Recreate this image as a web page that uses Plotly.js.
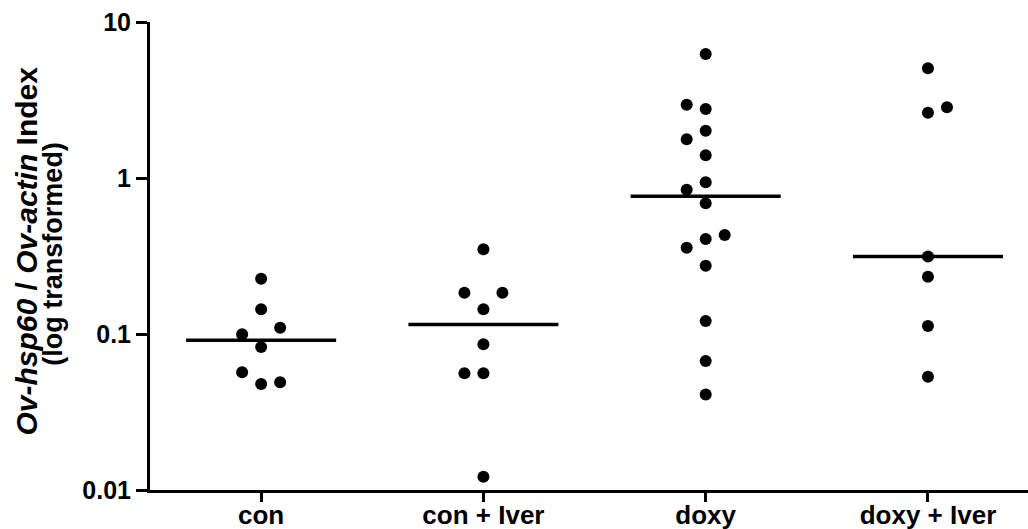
<!DOCTYPE html>
<html>
<head>
<meta charset="utf-8">
<script src="https://cdn.plot.ly/plotly-3.0.1.min.js"></script>
<style>
  html, body { margin: 0; padding: 0; background: #ffffff; }
  #chart { width: 1028px; height: 529px; }
</style>
</head>
<body>
<div id="chart"></div>
<script>
// Categories (x-axis groups)
const categories = ["con", "con + Iver", "doxy", "doxy + Iver"];

// Ov-hsp60 / Ov-actin index values per group
const conValues      = [0.226, 0.144, 0.1097, 0.0996, 0.0825, 0.0568, 0.0478, 0.049];
const conIverValues  = [0.349, 0.184, 0.184, 0.144, 0.0859, 0.056, 0.056, 0.01217];
const doxyValues     = [6.24, 2.95, 2.77, 2.01, 1.77, 1.397, 0.938, 0.841, 0.689, 0.431, 0.406, 0.357, 0.274, 0.121, 0.0671, 0.041];
const doxyIverValues = [5.05, 2.84, 2.62, 0.314, 0.233, 0.1125, 0.0532];

// Dot-plot column slot of each point (-1 left, 0 centre, 1 right)
const conSlots      = [0, 0, 1, -1, 0, -1, 0, 1];
const conIverSlots  = [0, -1, 1, 0, 0, -1, 0, 0];
const doxySlots     = [0, -1, 0, 0, -1, 0, 0, -1, 0, 1, 0, -1, 0, 0, 0, 0];
const doxyIverSlots = [0, 1, 0, 0, 0, 0, 0];

// Y-axis ticks
const yTickVals = [0.01, 0.1, 1, 10];
const yTickText = ["0.01", "0.1", "1", "10"];

const groups = [
  { values: conValues, slots: conSlots },
  { values: conIverValues, slots: conIverSlots },
  { values: doxyValues, slots: doxySlots },
  { values: doxyIverValues, slots: doxyIverSlots }
];

const SLOT_W = 0.0855;   // horizontal spacing of dot columns
const HALF_LINE = 0.3375; // half-width of the median bar

function median(arr) {
  const s = arr.slice().sort((a, b) => a - b);
  const n = s.length;
  return n % 2 ? s[(n - 1) / 2] : (s[n / 2 - 1] + s[n / 2]) / 2;
}

const traces = [];
groups.forEach((g, i) => {
  traces.push({
    type: "scatter",
    mode: "markers",
    x: g.slots.map(s => i + s * SLOT_W),
    y: g.values,
    marker: { color: "#000000", size: 12, line: { width: 0 } },
    hoverinfo: "y",
    showlegend: false,
    cliponaxis: false
  });
  const m = median(g.values);
  traces.push({
    type: "scatter",
    mode: "lines",
    x: [i - HALF_LINE, i + HALF_LINE],
    y: [m, m],
    line: { color: "#000000", width: 3.5 },
    hoverinfo: "y",
    showlegend: false
  });
});

const FONT = "Arial, 'Liberation Sans', Helvetica, sans-serif";

const layout = {
  width: 1028,
  height: 529,
  margin: { l: 150, r: 0, t: 22, b: 39, pad: 0 },
  paper_bgcolor: "#ffffff",
  plot_bgcolor: "#ffffff",
  showlegend: false,
  font: { family: FONT, color: "#000000" },
  xaxis: {
    range: [-0.5, 3.45],
    tickmode: "array",
    tickvals: categories.map((c, i) => i),
    ticktext: categories,
    showgrid: false,
    zeroline: false,
    showline: true,
    linecolor: "#000000",
    linewidth: 3,
    ticks: "outside",
    ticklen: 9,
    tickwidth: 3,
    tickcolor: "#000000",
    ticklabelstandoff: -9,
    tickfont: { family: FONT, size: 26, weight: "bold", color: "#000000" },
    automargin: false,
    fixedrange: true
  },
  yaxis: {
    type: "log",
    range: [-2, 1],
    tickmode: "array",
    tickvals: yTickVals,
    ticktext: yTickText,
    showgrid: false,
    zeroline: false,
    showline: true,
    linecolor: "#000000",
    linewidth: 3,
    ticks: "outside",
    ticklen: 11,
    tickwidth: 3,
    tickcolor: "#000000",
    tickfont: { family: FONT, size: 25, weight: "bold", color: "#000000" },
    automargin: false,
    fixedrange: true
  },
  annotations: [
    {
      text: "<i>Ov-hsp60</i> / <i>Ov-actin</i> Index",
      xref: "paper", yref: "paper",
      x: -0.141, y: 0.51,
      xanchor: "center", yanchor: "middle",
      textangle: -90,
      showarrow: false,
      font: { family: FONT, size: 30, weight: "bold", color: "#000000" }
    },
    {
      text: "(log transformed)",
      xref: "paper", yref: "paper",
      x: -0.1105, y: 0.505,
      xanchor: "center", yanchor: "middle",
      textangle: -90,
      showarrow: false,
      font: { family: FONT, size: 27, weight: "bold", color: "#000000" }
    }
  ]
};

Plotly.newPlot("chart", traces, layout, { staticPlot: true, displayModeBar: false });
</script>
</body>
</html>
